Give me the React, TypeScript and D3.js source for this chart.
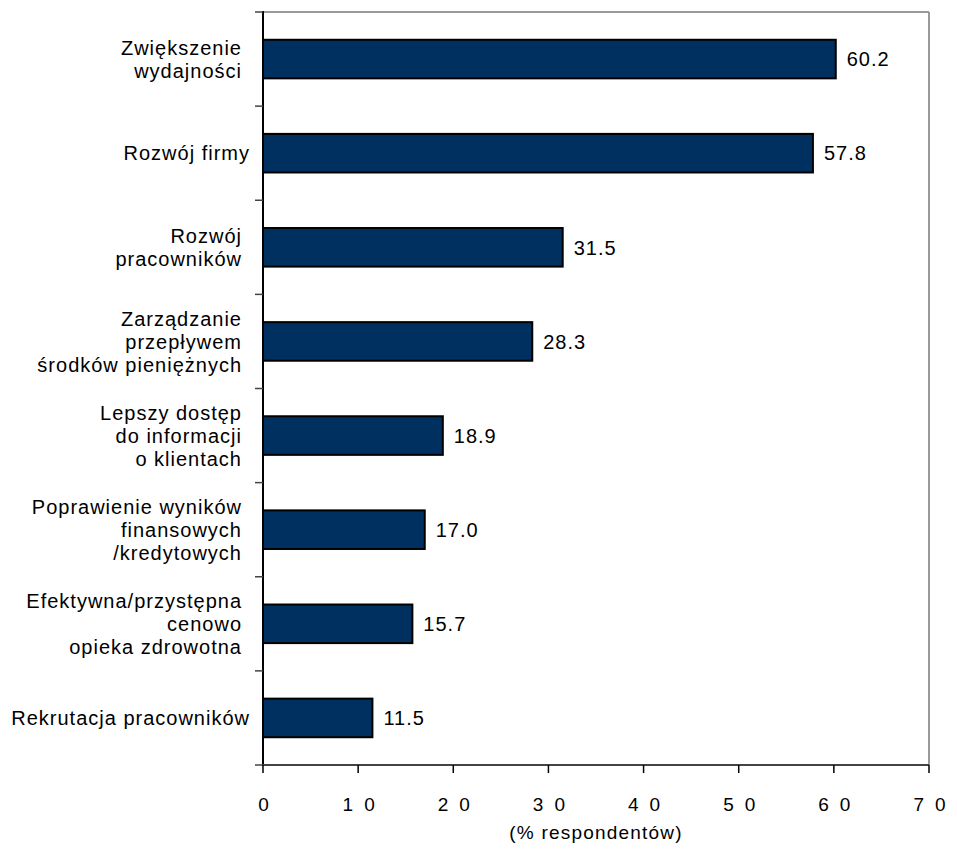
import React from "react";
import * as d3 from "d3";

const categories: string[][] = [
  ["Zwiększenie", "wydajności"],
  ["Rozwój firmy"],
  ["Rozwój", "pracowników"],
  ["Zarządzanie", "przepływem", "środków pieniężnych"],
  ["Lepszy dostęp", "do informacji", "o klientach"],
  ["Poprawienie wyników", "finansowych", "/kredytowych"],
  ["Efektywna/przystępna", "cenowo", "opieka zdrowotna"],
  ["Rekrutacja pracowników"],
];
const values: number[] = [60.2, 57.8, 31.5, 28.3, 18.9, 17.0, 15.7, 11.5];
const xTicks: number[] = [0, 10, 20, 30, 40, 50, 60, 70];
const axisTitle = "(% respondentów)";

const W = 957;
const H = 852;
const left = 263;
const right = 929;
const top = 12;
const bottom = 765;
const FONT = "'Liberation Sans', Arial, sans-serif";

export default function App() {
  const x = d3.scaleLinear().domain([0, 70]).range([left, right]);
  const idx = categories.map((_, i) => String(i));
  const y = d3.scaleBand().domain(idx).range([top, bottom]).paddingInner(0.59).paddingOuter(0.295);
  const step = (bottom - top) / categories.length;
  const lineH = 23;

  return (
    <svg width={W} height={H} style={{ position: "absolute", left: 0, top: 0 }} fontFamily={FONT}>
      {/* frame */}
      <line x1={left} x2={right} y1={top} y2={top} stroke="#999" strokeWidth={2} />
      <line x1={right} x2={right} y1={top} y2={bottom} stroke="#999" strokeWidth={2} />
      {/* bars */}
      {values.map((v, i) => (
        <rect
          key={i}
          x={x(0)}
          y={y(String(i))!}
          width={x(v) - x(0)}
          height={y.bandwidth()}
          fill="#00305f"
          stroke="#000"
          strokeWidth={2}
        />
      ))}
      {/* value labels */}
      {values.map((v, i) => (
        <text
          key={i}
          x={x(v) + 11}
          y={y(String(i))! + y.bandwidth() / 2}
          dy="0.36em"
          fontSize={20}
          letterSpacing={1}
          fill="#000"
        >
          {v.toFixed(1)}
        </text>
      ))}
      {/* y axis */}
      <line x1={left} x2={left} y1={top - 1} y2={bottom + 1} stroke="#000" strokeWidth={2} />
      {d3.range(categories.length + 1).map((i) => (
        <line key={i} x1={left - 8} x2={left} y1={top + i * step} y2={top + i * step} stroke="#444" strokeWidth={1.5} />
      ))}
      {/* category labels */}
      {categories.map((lines, i) => {
        const cy = y(String(i))! + y.bandwidth() / 2;
        const start = cy - ((lines.length - 1) * lineH) / 2;
        const ax = lines.length > 1 ? 242 : 250;
        return (
          <text key={i} textAnchor="end" fontSize={20} letterSpacing={1} fill="#000">
            {lines.map((l, j) => (
              <tspan key={j} x={ax} y={start + j * lineH} dy="0.36em">
                {l}
              </tspan>
            ))}
          </text>
        );
      })}
      {/* x axis */}
      <line x1={left} x2={right} y1={bottom} y2={bottom} stroke="#444" strokeWidth={2} />
      {xTicks.map((t) => (
        <g key={t}>
          <line x1={x(t)} x2={x(t)} y1={bottom} y2={bottom + 8} stroke="#000" strokeWidth={1.5} />
          <text x={x(t) + 6} y={804} dy="0.36em" textAnchor="middle" fontSize={19} letterSpacing={11} fill="#000">
            {String(t)}
          </text>
        </g>
      ))}
      <text x={(left + right) / 2} y={832} dy="0.36em" textAnchor="middle" fontSize={19} letterSpacing={1.2} fill="#000">
        {axisTitle}
      </text>
    </svg>
  );
}
